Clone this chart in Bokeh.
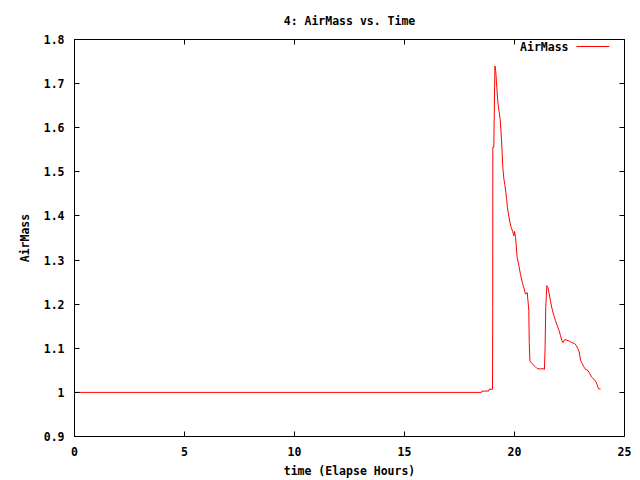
from bokeh.plotting import figure
from bokeh.models import (LinearAxis, Range1d, FixedTicker, Label, BoxAnnotation,
                          CustomJSTickFormatter, Title)
from bokeh.embed import file_html
from bokeh.resources import INLINE

time_h = [0.0, 18.5, 18.52, 18.83, 18.85, 19.0, 19.01, 19.015, 19.06, 19.11,
          19.15, 19.18, 19.24, 19.30, 19.35, 19.39, 19.44, 19.47, 19.52, 19.56,
          19.61, 19.64, 19.68, 19.74, 19.79, 19.85, 19.92, 19.97, 20.0, 20.05,
          20.09, 20.12, 20.2, 20.27, 20.35, 20.42, 20.5, 20.58, 20.65, 20.67,
          20.7, 20.8, 20.95, 21.03, 21.18, 21.3, 21.36, 21.39, 21.42, 21.47,
          21.52, 21.58, 21.64, 21.71, 21.79, 21.86, 21.94, 22.02, 22.09, 22.15,
          22.2, 22.29, 22.39, 22.5, 22.59, 22.73, 22.8, 22.88, 22.94, 23.0,
          23.08, 23.15, 23.23, 23.33, 23.42, 23.5, 23.61, 23.7, 23.76, 23.82,
          23.91]
airmass = [1.0, 1.0, 1.003, 1.003, 1.007, 1.007, 1.19, 1.556, 1.556, 1.74,
           1.727, 1.704, 1.659, 1.637, 1.618, 1.588, 1.543, 1.509, 1.483, 1.471,
           1.453, 1.439, 1.419, 1.4, 1.386, 1.374, 1.364, 1.355, 1.365, 1.351,
           1.325, 1.306, 1.287, 1.268, 1.25, 1.238, 1.223, 1.226, 1.186, 1.113,
           1.071, 1.065, 1.058, 1.054, 1.053, 1.054, 1.052, 1.099, 1.193, 1.242,
           1.238, 1.223, 1.205, 1.189, 1.174, 1.163, 1.152, 1.141, 1.129, 1.118,
           1.113, 1.12, 1.118, 1.116, 1.113, 1.111, 1.107, 1.099, 1.092, 1.073,
           1.065, 1.058, 1.052, 1.05, 1.043, 1.035, 1.03, 1.024, 1.017, 1.008,
           1.008]

x_ticks = [0, 5, 10, 15, 20, 25]
y_ticks = [0.9, 1.0, 1.1, 1.2, 1.3, 1.4, 1.5, 1.6, 1.7, 1.8]

FONT = "DejaVu Sans Mono"
FS = "11.5px"

p = figure(width=640, height=480, output_backend="svg", toolbar_location=None,
           x_range=Range1d(0, 25), y_range=Range1d(0.9, 1.8),
           min_border_left=74, min_border_right=16, min_border_top=39,
           min_border_bottom=42, title=None)
p.xgrid.visible = False
p.ygrid.visible = False
p.outline_line_color = "black"
p.outline_line_width = 1
p.background_fill_color = "white"
p.border_fill_color = "white"

fmt = CustomJSTickFormatter(code="return String(Math.round(tick*10)/10);")

def style(ax):
    ax.minor_tick_line_color = None
    ax.major_tick_in = 5
    ax.major_tick_out = 0
    ax.major_tick_line_color = "black"
    ax.axis_line_color = "black"
    ax.major_label_text_font = FONT
    ax.major_label_text_font_size = FS
    ax.major_label_text_font_style = "bold"
    ax.major_label_text_color = "black"
    ax.axis_label_text_font = FONT
    ax.axis_label_text_font_size = FS
    ax.axis_label_text_font_style = "bold"
    ax.axis_label_text_color = "black"
    ax.formatter = fmt

p.xaxis.ticker = FixedTicker(ticks=x_ticks)
p.yaxis.ticker = FixedTicker(ticks=y_ticks)
style(p.xaxis[0])
style(p.yaxis[0])
p.xaxis.axis_label = "time (Elapse Hours)"
p.yaxis.axis_label = "AirMass"
p.xaxis.major_label_standoff = 10
p.xaxis.axis_label_standoff = 5
p.yaxis.major_label_standoff = 10
p.yaxis.axis_label_standoff = 9

top = LinearAxis(ticker=FixedTicker(ticks=x_ticks))
style(top)
top.major_label_text_alpha = 0
top.major_label_standoff = 0
top.major_label_text_font_size = "1px"
right = LinearAxis(ticker=FixedTicker(ticks=y_ticks))
style(right)
right.major_label_text_alpha = 0
right.major_label_standoff = 0
right.major_label_text_font_size = "1px"
p.add_layout(top, "above")
p.add_layout(right, "right")

t = Title(text="4: AirMass vs. Time", align="center", text_font=FONT,
          text_font_size=FS, text_font_style="bold", text_color="black",
          standoff=23)
p.add_layout(t, "above")

p.line(time_h, airmass, line_color="red", line_width=1)

leg = Label(x=494, y=390, x_units="screen", y_units="screen", text="AirMass",
            text_align="right", text_baseline="middle", text_font=FONT,
            text_font_size=FS, text_font_style="bold", text_color="black")
p.add_layout(leg)
sample = BoxAnnotation(left=502, right=535, bottom=389.5, top=390.5,
                       left_units="screen", right_units="screen",
                       bottom_units="screen", top_units="screen",
                       fill_color="red", fill_alpha=1.0, line_color=None)
p.add_layout(sample)

open("out.html", "w").write(file_html(p, INLINE))
